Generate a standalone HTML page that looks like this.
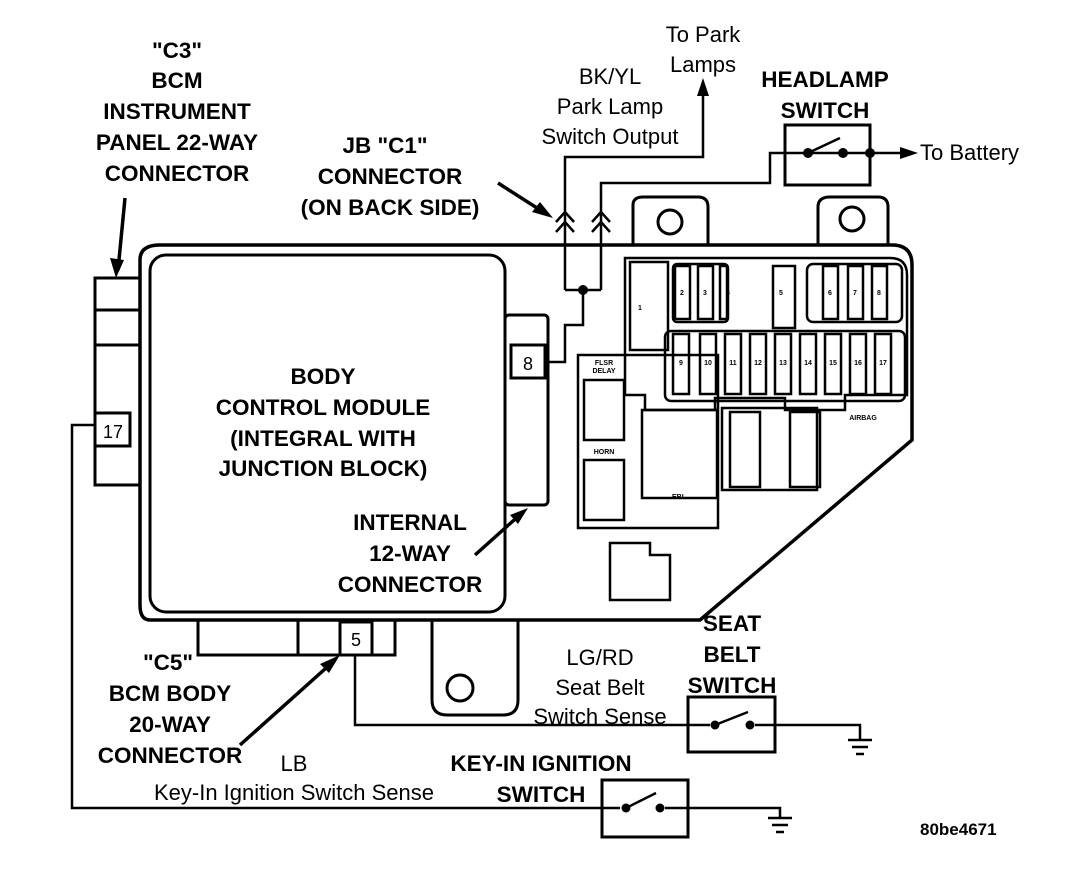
<!DOCTYPE html>
<html><head><meta charset="utf-8"><style>
html,body{margin:0;padding:0;background:#fff;}
svg{display:block}
text{font-family:"Liberation Sans",Arial,sans-serif;fill:#000}
.b{font-weight:bold;font-size:22.5px}
.n{font-size:22px}
.s{font-size:7px;font-weight:bold}
</style></head><body>
<svg width="1088" height="876" viewBox="0 0 1088 876" xmlns="http://www.w3.org/2000/svg">
<g fill="none" stroke="#000" stroke-width="3">
<path d="M633 245 V205 Q633 197 643 197 H698 Q708 197 708 207 V245"/>
<circle cx="670" cy="222" r="12"/>
<path d="M818 245 V207 Q818 197 830 197 H878 Q888 197 888 207 V245"/>
<circle cx="852" cy="219" r="12"/>
<path d="M160 245 H892 Q912 245 912 265 V440 L700 620 H150 Q140 620 140 605 V260 Q140 245 160 245 Z" stroke-width="3.5"/>
<rect x="150" y="255" width="355" height="357" rx="16"/>
<path d="M625 258 H890 Q907 258 907 275 V395 H845 V410 H785 V398 H715 V410 H645 V395 H625 Z" stroke-width="2.5"/>
<g stroke-width="2.5">
<rect x="630" y="262" width="38" height="88"/>
<rect x="673" y="264" width="55" height="58" rx="4"/>
<rect x="675" y="266" width="15" height="53"/><rect x="698" y="266" width="15" height="53"/><rect x="720" y="266" width="7" height="53"/>
<rect x="773" y="266" width="22" height="62"/>
<rect x="807" y="264" width="95" height="58" rx="6"/>
<rect x="823" y="266" width="15" height="53"/><rect x="848" y="266" width="15" height="53"/><rect x="872" y="266" width="15" height="53"/>
<rect x="665" y="331" width="240" height="70" rx="6"/>
<rect x="673" y="334" width="16" height="60"/><rect x="700" y="334" width="16" height="60"/><rect x="725" y="334" width="16" height="60"/><rect x="750" y="334" width="16" height="60"/><rect x="775" y="334" width="16" height="60"/><rect x="800" y="334" width="16" height="60"/><rect x="825" y="334" width="16" height="60"/><rect x="850" y="334" width="16" height="60"/><rect x="875" y="334" width="16" height="60"/>
<rect x="578" y="355" width="140" height="173"/>
<rect x="584" y="380" width="40" height="60"/>
<rect x="584" y="460" width="40" height="60"/>
<rect x="642" y="410" width="75" height="88"/>
<rect x="722" y="408" width="95" height="82"/>
<rect x="730" y="412" width="30" height="75"/><rect x="790" y="412" width="30" height="75"/>
<path d="M610 543 H650 V555 H670 V600 H610 Z"/>
</g>
<rect x="95" y="278" width="45" height="207"/>
<line x1="95" y1="310" x2="140" y2="310"/><line x1="95" y1="345" x2="140" y2="345"/>
<rect x="95" y="413" width="35" height="33"/>
<rect x="505" y="315" width="43" height="190" rx="4"/>
<rect x="511" y="345" width="34" height="33"/>
<rect x="198" y="620" width="197" height="35"/>
<line x1="298" y1="620" x2="298" y2="655"/>
<rect x="340" y="622" width="32" height="33"/>
<path d="M432 620 V700 Q432 715 447 715 H503 Q518 715 518 700 V620"/>
<circle cx="460" cy="688" r="13"/>
<g stroke-width="2.5">
<path d="M548 362 H565 V325 H583 V290"/>
<path d="M565 290 H601"/>
<path d="M565 290 V157 H703 V92"/>
<path d="M601 290 V183 H770 V153 H900"/>
<path d="M556 222 L565 212 L574 222 M556 232 L565 222 L574 232"/>
<path d="M592 222 L601 212 L610 222 M592 232 L601 222 L610 232"/>
<path d="M95 425 H72 V808 H620"/>
<path d="M355 655 V725 H710"/>
<path d="M755 725 H860 V740"/>
<path d="M665 808 H780 V818"/>
</g>
<rect x="785" y="125" width="85" height="60"/>
<line x1="808" y1="153" x2="840" y2="138" stroke-width="2.5"/>
<rect x="688" y="697" width="87" height="55"/>
<line x1="715" y1="725" x2="748" y2="712" stroke-width="2.5"/>
<rect x="602" y="780" width="86" height="57"/>
<line x1="626" y1="808" x2="656" y2="793" stroke-width="2.5"/>
<g stroke-width="2.5">
<path d="M848 740 H872 M852 747 H868 M856 754 H864"/>
<path d="M768 818 H792 M772 825 H788 M776 832 H784"/>
</g>
<g stroke-width="3.5">
<line x1="125" y1="198" x2="118" y2="270"/>
<line x1="498" y1="183" x2="548" y2="215"/>
<line x1="475" y1="555" x2="523" y2="512"/>
<line x1="240" y1="745" x2="335" y2="660"/>
</g>
</g>
<g fill="#000">
<circle cx="583" cy="290" r="5"/>
<circle cx="808" cy="153" r="5"/><circle cx="843" cy="153" r="5"/><circle cx="870" cy="153" r="5"/>
<circle cx="715" cy="725" r="4.5"/><circle cx="750" cy="725" r="4.5"/>
<circle cx="626" cy="808" r="4.5"/><circle cx="660" cy="808" r="4.5"/>
<path d="M703 78 L697 96 H709 Z"/>
<path d="M918 153 L900 147 V159 Z"/>
<path d="M116 278 L110 258 L124 260 Z"/>
<path d="M553 218 L532 212 L540 202 Z"/>
<path d="M528 508 L510 515 L518 524 Z"/>
<path d="M340 655 L320 664 L329 673 Z"/>
</g>
<g class="s" text-anchor="middle">
<text x="640" y="310">1</text><text x="682" y="295">2</text><text x="705" y="295">3</text><text x="728" y="295">4</text><text x="781" y="295">5</text><text x="830" y="295">6</text><text x="855" y="295">7</text><text x="879" y="295">8</text>
<text x="681" y="365">9</text><text x="708" y="365">10</text><text x="733" y="365">11</text><text x="758" y="365">12</text><text x="783" y="365">13</text><text x="808" y="365">14</text><text x="833" y="365">15</text><text x="858" y="365">16</text><text x="883" y="365">17</text>
<text x="604" y="365">FLSR</text><text x="604" y="373">DELAY</text><text x="604" y="454">HORN</text><text x="679" y="499">EBL</text><text x="863" y="420">AIRBAG</text>
</g>
<g class="n" text-anchor="middle">
<text x="113" y="438" font-size="18">17</text>
<text x="528" y="370" font-size="18">8</text>
<text x="356" y="646" font-size="18">5</text>
</g>
<g class="b" text-anchor="middle">
<text x="177" y="58">"C3"</text><text x="177" y="88">BCM</text><text x="177" y="119">INSTRUMENT</text><text x="177" y="150">PANEL 22-WAY</text><text x="177" y="181">CONNECTOR</text>
<text x="385" y="153">JB "C1"</text><text x="390" y="184">CONNECTOR</text><text x="390" y="215">(ON BACK SIDE)</text>
<text x="825" y="87">HEADLAMP</text><text x="825" y="118">SWITCH</text>
<text x="323" y="384">BODY</text><text x="323" y="415">CONTROL MODULE</text><text x="323" y="446">(INTEGRAL WITH</text><text x="323" y="476">JUNCTION BLOCK)</text>
<text x="410" y="530">INTERNAL</text><text x="410" y="561">12-WAY</text><text x="410" y="592">CONNECTOR</text>
<text x="732" y="631">SEAT</text><text x="732" y="662">BELT</text><text x="732" y="693">SWITCH</text>
<text x="168" y="670">"C5"</text><text x="170" y="701">BCM BODY</text><text x="170" y="732">20-WAY</text><text x="170" y="763">CONNECTOR</text>
<text x="541" y="771">KEY-IN IGNITION</text><text x="541" y="802">SWITCH</text>
</g>
<g class="n" text-anchor="middle">
<text x="703" y="42">To Park</text><text x="703" y="72">Lamps</text>
<text x="610" y="84">BK/YL</text><text x="610" y="114">Park Lamp</text><text x="610" y="144">Switch Output</text>
<text x="600" y="665">LG/RD</text><text x="600" y="695">Seat Belt</text><text x="600" y="724">Switch Sense</text>
<text x="294" y="771">LB</text>
<text x="294" y="800">Key-In Ignition Switch Sense</text>
</g>
<text x="920" y="160" class="n">To Battery</text>
<text x="920" y="835" font-size="17" font-weight="bold">80be4671</text>
</svg>
</body></html>
